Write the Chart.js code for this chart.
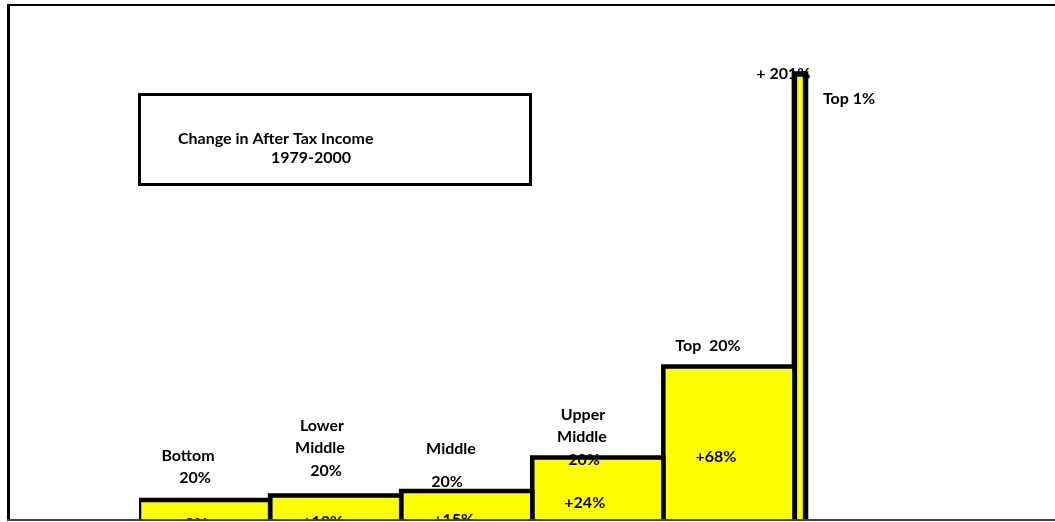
<!DOCTYPE html>
<html>
<head>
<meta charset="utf-8">
<script src="https://cdn.jsdelivr.net/npm/chart.js@4/dist/chart.umd.min.js"></script>
<style>
  html, body { margin: 0; padding: 0; background: #fff; overflow: hidden; }
  #wrap { position: absolute; left: 0; top: 0; width: 1055px; height: 522px; overflow: hidden; }
</style>
</head>
<body>
<div id="wrap"><canvas id="chart" width="1055" height="560"></canvas></div>
<script>
// income groups, left to right
const groups = ['Bottom 20%', 'Lower Middle 20%', 'Middle 20%', 'Upper Middle 20%', 'Top 20%', 'Top 1%'];
// change in after tax income 1979-2000 (text printed on the chart)
const changeText = ['+9%', '+13%', '+15%', '+24%', '+68%', '+ 201%'];
// the original is drawn by hand and not to scale: bar heights as drawn
const barHeights = [9.6, 10.5, 11.4, 18.1, 36.3, 94.8];
// bar edges along the x axis
const barStart = [0, 20, 40, 60, 80, 100];
const barEnd = [20, 40, 60, 80, 100, 101.7];

const FONT = 'bold 16px Lato, "Open Sans", sans-serif';

// group names as they sit above the bars (page pixels)
const groupText = [
  [['Bottom', 188, 456], ['20%', 195, 478]],
  [['Lower', 322, 426], ['Middle', 320, 448], ['20%', 326, 471]],
  [['Middle', 451, 449], ['20%', 447, 482]],
  [['Upper', 583, 415], ['Middle', 582, 437], ['20%', 584, 460]],
  [['Top  20%', 708, 346]],
  [['Top 1%', 849, 99]]
];

const datasets = groups.map((g, i) => ({
  label: g,
  data: [
    {x: barStart[i], y: 0},
    {x: barStart[i], y: barHeights[i]},
    {x: barEnd[i], y: barHeights[i]},
    {x: barEnd[i], y: 0}
  ],
  borderColor: '#000',
  backgroundColor: '#ffff00',
  borderWidth: i === 5 ? 5.5 : 4.5,
  borderJoinStyle: 'miter',
  fill: 'origin',
  pointRadius: 0,
  tension: 0
}));

const textPlugin = {
  id: 'texts',
  beforeDatasetsDraw(chart) {
    const ctx = chart.ctx;
    const sx = chart.scales.x, sy = chart.scales.y;
    ctx.save();
    ctx.fillStyle = '#000';
    ctx.font = FONT;
    ctx.textAlign = 'center';
    ctx.textBaseline = 'middle';
    // top 1% value sits by the top of its bar, partly under it
    ctx.fillText(changeText[5], sx.getPixelForValue(barStart[5]) - 11, sy.getPixelForValue(barHeights[5]));

    // title box
    ctx.lineWidth = 3;
    ctx.strokeStyle = '#000';
    ctx.strokeRect(139.5, 94.5, 391, 90);
    ctx.textAlign = 'left';
    ctx.fillText('Change in After Tax Income', 178, 139);
    ctx.textAlign = 'center';
    ctx.fillText('1979-2000', 311, 158);
    ctx.restore();
  },
  afterDatasetsDraw(chart) {
    const ctx = chart.ctx;
    const sx = chart.scales.x, sy = chart.scales.y;
    ctx.save();
    ctx.fillStyle = '#000';
    ctx.font = FONT;
    ctx.textAlign = 'center';
    ctx.textBaseline = 'middle';
    groupText.forEach(lines => lines.forEach(l => ctx.fillText(l[0], l[1], l[2])));
    for (let i = 0; i < 5; i++) {
      const cx = (sx.getPixelForValue(barStart[i]) + sx.getPixelForValue(barEnd[i])) / 2 - 13;
      const cy = (sy.getPixelForValue(barHeights[i]) + sy.getPixelForValue(0)) / 2;
      ctx.fillText(changeText[i], cx, cy);
    }
    // the picture is cut off at the bottom
    ctx.fillStyle = '#fff';
    ctx.fillRect(0, 521, chart.width, chart.height - 521);
    // frame
    ctx.fillStyle = '#000';
    ctx.fillRect(7, 4, 3, 517);
    ctx.fillRect(7, 4, 1048, 2);
    ctx.fillStyle = '#404040';
    ctx.fillRect(7, 519, 1048, 2);
    ctx.restore();
  }
};

new Chart(document.getElementById('chart'), {
  type: 'line',
  data: { datasets: datasets },
  options: {
    responsive: false,
    animation: false,
    layout: { padding: { left: 139, right: 5, top: 48, bottom: 12 } },
    plugins: { legend: { display: false }, tooltip: { enabled: false } },
    scales: {
      x: { type: 'linear', min: 0, max: 139, display: false },
      y: { min: 0, max: 100, display: false }
    }
  },
  plugins: [textPlugin]
});
</script>
</body>
</html>
